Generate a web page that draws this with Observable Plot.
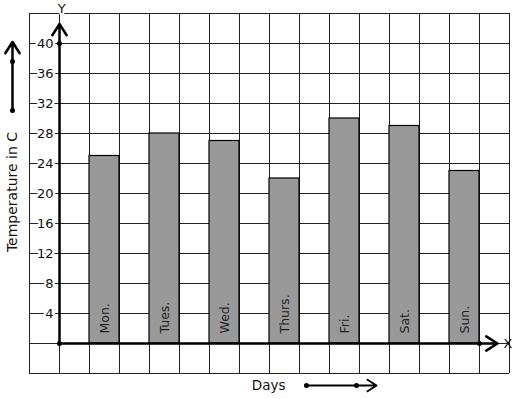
<!DOCTYPE html>
<html>
<head>
<meta charset="utf-8">
<script src="https://cdn.jsdelivr.net/npm/d3@7"></script>
<script src="https://cdn.jsdelivr.net/npm/@observablehq/plot@0.6"></script>
<style>
  html, body { margin: 0; padding: 0; background: #fff; }
  #chart svg { display: block; }
</style>
</head>
<body>
<div id="chart"></div>
<script>
const days = ["Mon.", "Tues.", "Wed.", "Thurs.", "Fri.", "Sat.", "Sun."];
const temps = [25, 28, 27, 22, 30, 29, 23];
const yTicks = [4, 8, 12, 16, 20, 24, 28, 32, 36, 40];
const yAxisLabel = "Temperature in C";
const xAxisLabel = "Days";

const data = days.map((d, i) => ({day: d, temp: temps[i], x1: 2 * i + 1, x2: 2 * i + 2}));
const xGrid = d3.range(-1, 16);
const yGrid = d3.range(-4, 45, 4);
const font = "DejaVu Sans, sans-serif";

const chart = Plot.plot({
  width: 517,
  height: 399,
  marginLeft: 29,
  marginRight: 8,
  marginTop: 13,
  marginBottom: 26,
  x: {type: "linear", domain: [-1, 15], axis: null},
  y: {type: "linear", domain: [-4, 44], axis: null},
  style: {fontFamily: font, background: "#fff"},
  marks: [
    Plot.ruleX(xGrid, {x: d => d, y1: -4, y2: 44, stroke: "#222", strokeWidth: 1}),
    Plot.ruleY(yGrid, {y: d => d, x1: -1, x2: 15, stroke: "#222", strokeWidth: 1}),
    Plot.rectY(data, {x1: "x1", x2: "x2", y1: 0, y2: "temp", fill: "#999999", stroke: "#000", strokeWidth: 1.2}),
    Plot.text(data, {x: d => (d.x1 + d.x2) / 2, y: 0, text: "day", rotate: -90, textAnchor: "start", lineAnchor: "middle", dy: -10, fontSize: 12.5, fill: "#222"}),
    Plot.text(yTicks, {x: 0, y: d => d, text: d => String(d), textAnchor: "end", dx: -6, fontSize: 13, fill: "#111", stroke: "#fff", strokeWidth: 5, paintOrder: "stroke"}),
    Plot.arrow([{x1: 0, y1: 0, x2: 0, y2: 42.6}], {x1: "x1", y1: "y1", x2: "x2", y2: "y2", stroke: "#000", strokeWidth: 2.5, headLength: 8, headAngle: 65}),
    Plot.arrow([{x1: 0, y1: 0, x2: 14.6, y2: 0}], {x1: "x1", y1: "y1", x2: "x2", y2: "y2", stroke: "#000", strokeWidth: 2.5, headLength: 8, headAngle: 65}),
    Plot.dot([[0, 0], [0, 40], [14, 0]], {x: d => d[0], y: d => d[1], r: 2.5, fill: "#000"}),
    Plot.text(["Y"], {x: 0.07, y: 44.67, text: d => d, fontSize: 13, fill: "#111", stroke: "#fff", strokeWidth: 4, paintOrder: "stroke"}),
    Plot.text(["X"], {x: 14.95, y: 0, text: d => d, fontSize: 13, fill: "#111"}),
    Plot.arrow([{x1: -1.567, y1: 31.07, x2: -1.567, y2: 40.2}], {x1: "x1", y1: "y1", x2: "x2", y2: "y2", stroke: "#000", strokeWidth: 2.5, headLength: 8, headAngle: 65}),
    Plot.dot([31.07, 37.6], {x: -1.567, y: d => d, r: 2.5, fill: "#000"}),
    Plot.text([yAxisLabel], {x: -1.567, y: 20.2, text: d => d, rotate: -90, fontSize: 14, fill: "#111"}),
    Plot.text([xAxisLabel], {x: 6.97, y: -5.6, text: d => d, fontSize: 13.5, fill: "#111"}),
    Plot.arrow([{x1: 8.233, y1: -5.6, x2: 10.567, y2: -5.6}], {x1: "x1", y1: "y1", x2: "x2", y2: "y2", stroke: "#000", strokeWidth: 2, headLength: 8, headAngle: 65}),
    Plot.dot([8.233, 9.9], {x: d => d, y: -5.6, r: 2.5, fill: "#000"})
  ]
});
document.getElementById("chart").appendChild(chart);
</script>
</body>
</html>
